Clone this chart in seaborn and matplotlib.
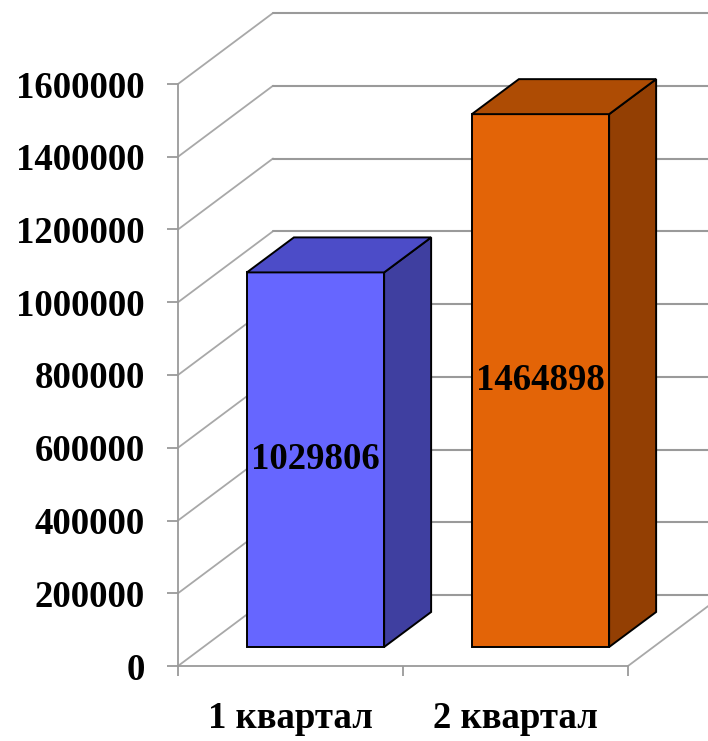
import matplotlib
matplotlib.use("Agg")
import matplotlib.pyplot as plt
import matplotlib.transforms as mtransforms
from matplotlib.patches import Polygon
from matplotlib.lines import Line2D
import numpy as np
import pandas as pd
import seaborn as sns

# Quarterly totals
quarters = ["1 квартал", "2 квартал"]
amounts = [1029806, 1464898]
y_ticks = [0, 200000, 400000, 600000, 800000, 1000000, 1200000, 1400000, 1600000]

# Face colours of the prism bars (front / top / side)
front_colors = ["#6666FF", "#E36407"]
top_colors = ["#4C4CC8", "#AE4C04"]
side_colors = ["#3F3FA0", "#933F03"]

sns.set_theme(style="white")
plt.rcParams["font.family"] = ["Liberation Serif", "DejaVu Serif"]
plt.rcParams["font.weight"] = "bold"
plt.rcParams["text.color"] = "black"
plt.rcParams["xtick.labelcolor"] = "black"
plt.rcParams["ytick.labelcolor"] = "black"

W, H = 708, 741
fig = plt.figure(figsize=(W / 100, H / 100), dpi=100)
ax = fig.add_axes([178 / W, (H - 666) / H, (628 - 178) / W, (666 - 84) / H])

df = pd.DataFrame({"quarter": quarters, "amount": amounts})
sns.barplot(data=df, x="quarter", y="amount", hue="quarter", palette=front_colors,
            saturation=1, width=0.61, edgecolor="black", linewidth=1.4,
            legend=False, ax=ax, zorder=3)
bars = list(ax.patches)
ax.set_xlim(-0.5, 1.5)
ax.set_ylim(0, 1600000)
ax.autoscale(False)

# pseudo-3D geometry in pixels
depth = np.array([95.0, 71.0])        # wall depth
bar_shift = np.array([25.0, 19.0])    # bars sit a little behind the front plane
bar_depth = np.array([47.0, 35.0])    # thickness of each prism
ident = mtransforms.IdentityTransform()
to_disp = ax.transData.transform
shift_t = mtransforms.Affine2D().translate(*bar_shift)

grid_color = "#9a9a9a"
diag_color = "#a8a8a8"

# back wall gridlines with their diagonal links to the front axis
for v in y_ticks:
    a = to_disp((-0.5, v))
    b = to_disp((1.5, v))
    ax.add_line(Line2D([a[0], a[0] + depth[0]], [a[1], a[1] + depth[1]],
                       color=diag_color, lw=1.3, transform=ident, clip_on=False, zorder=1))
    ax.add_line(Line2D([a[0] + depth[0], b[0] + depth[0]], [a[1] + depth[1]] * 2,
                       color=grid_color, lw=1.5, transform=ident, clip_on=False, zorder=1))

# right edge of the floor
f0 = to_disp((1.5, 0))
ax.add_line(Line2D([f0[0], f0[0] + depth[0]], [f0[1], f0[1] + depth[1]],
                   color=diag_color, lw=1.3, transform=ident, clip_on=False, zorder=1))

# bars: move front faces back, then add top and side faces
for i, p in enumerate(bars):
    p.set_transform(ax.transData + shift_t)
    p.set_clip_on(False)
    x0, w, h = p.get_x(), p.get_width(), p.get_height()
    fl = to_disp((x0, h)) + bar_shift
    fr = to_disp((x0 + w, h)) + bar_shift
    br = to_disp((x0 + w, 0)) + bar_shift
    top = Polygon([fl, fr, fr + bar_depth, fl + bar_depth], closed=True,
                  facecolor=top_colors[i], edgecolor="black", lw=1.4,
                  transform=ident, clip_on=False, zorder=3)
    side = Polygon([br, fr, fr + bar_depth, br + bar_depth], closed=True,
                   facecolor=side_colors[i], edgecolor="black", lw=1.4,
                   transform=ident, clip_on=False, zorder=3)
    ax.add_patch(side)
    ax.add_patch(top)

# value labels on the bar faces
for i, v in enumerate(amounts):
    ax.text(i, v / 2, f"{v}", transform=ax.transData + shift_t, ha="center", va="center",
            fontsize=26.5, fontweight="bold", color="black", zorder=5)

# axes styling
for s in ["top", "right"]:
    ax.spines[s].set_visible(False)
for s in ["left", "bottom"]:
    ax.spines[s].set_color(grid_color)
    ax.spines[s].set_linewidth(1.3)
ax.set_xlabel("")
ax.set_ylabel("")
ax.set_yticks(y_ticks, labels=[str(v) for v in y_ticks])
ax.set_xticks([0, 1], labels=quarters)
ax.set_xticks([-0.5, 0.5, 1.5], minor=True)
ax.tick_params(axis="y", left=True, length=8, width=1.3, color=grid_color,
               labelcolor="black", direction="out", pad=16, labelsize=26.5)
ax.tick_params(axis="x", which="major", bottom=True, length=0, pad=25,
               labelcolor="black", labelsize=26.5)
ax.tick_params(axis="x", which="minor", bottom=True, length=7, width=1.3,
               color=grid_color, direction="out")
for lbl in ax.get_xticklabels() + ax.get_yticklabels():
    lbl.set_fontweight("bold")
    lbl.set_color("black")
ax.patch.set_alpha(0)

fig.savefig("out.png", dpi=100)
